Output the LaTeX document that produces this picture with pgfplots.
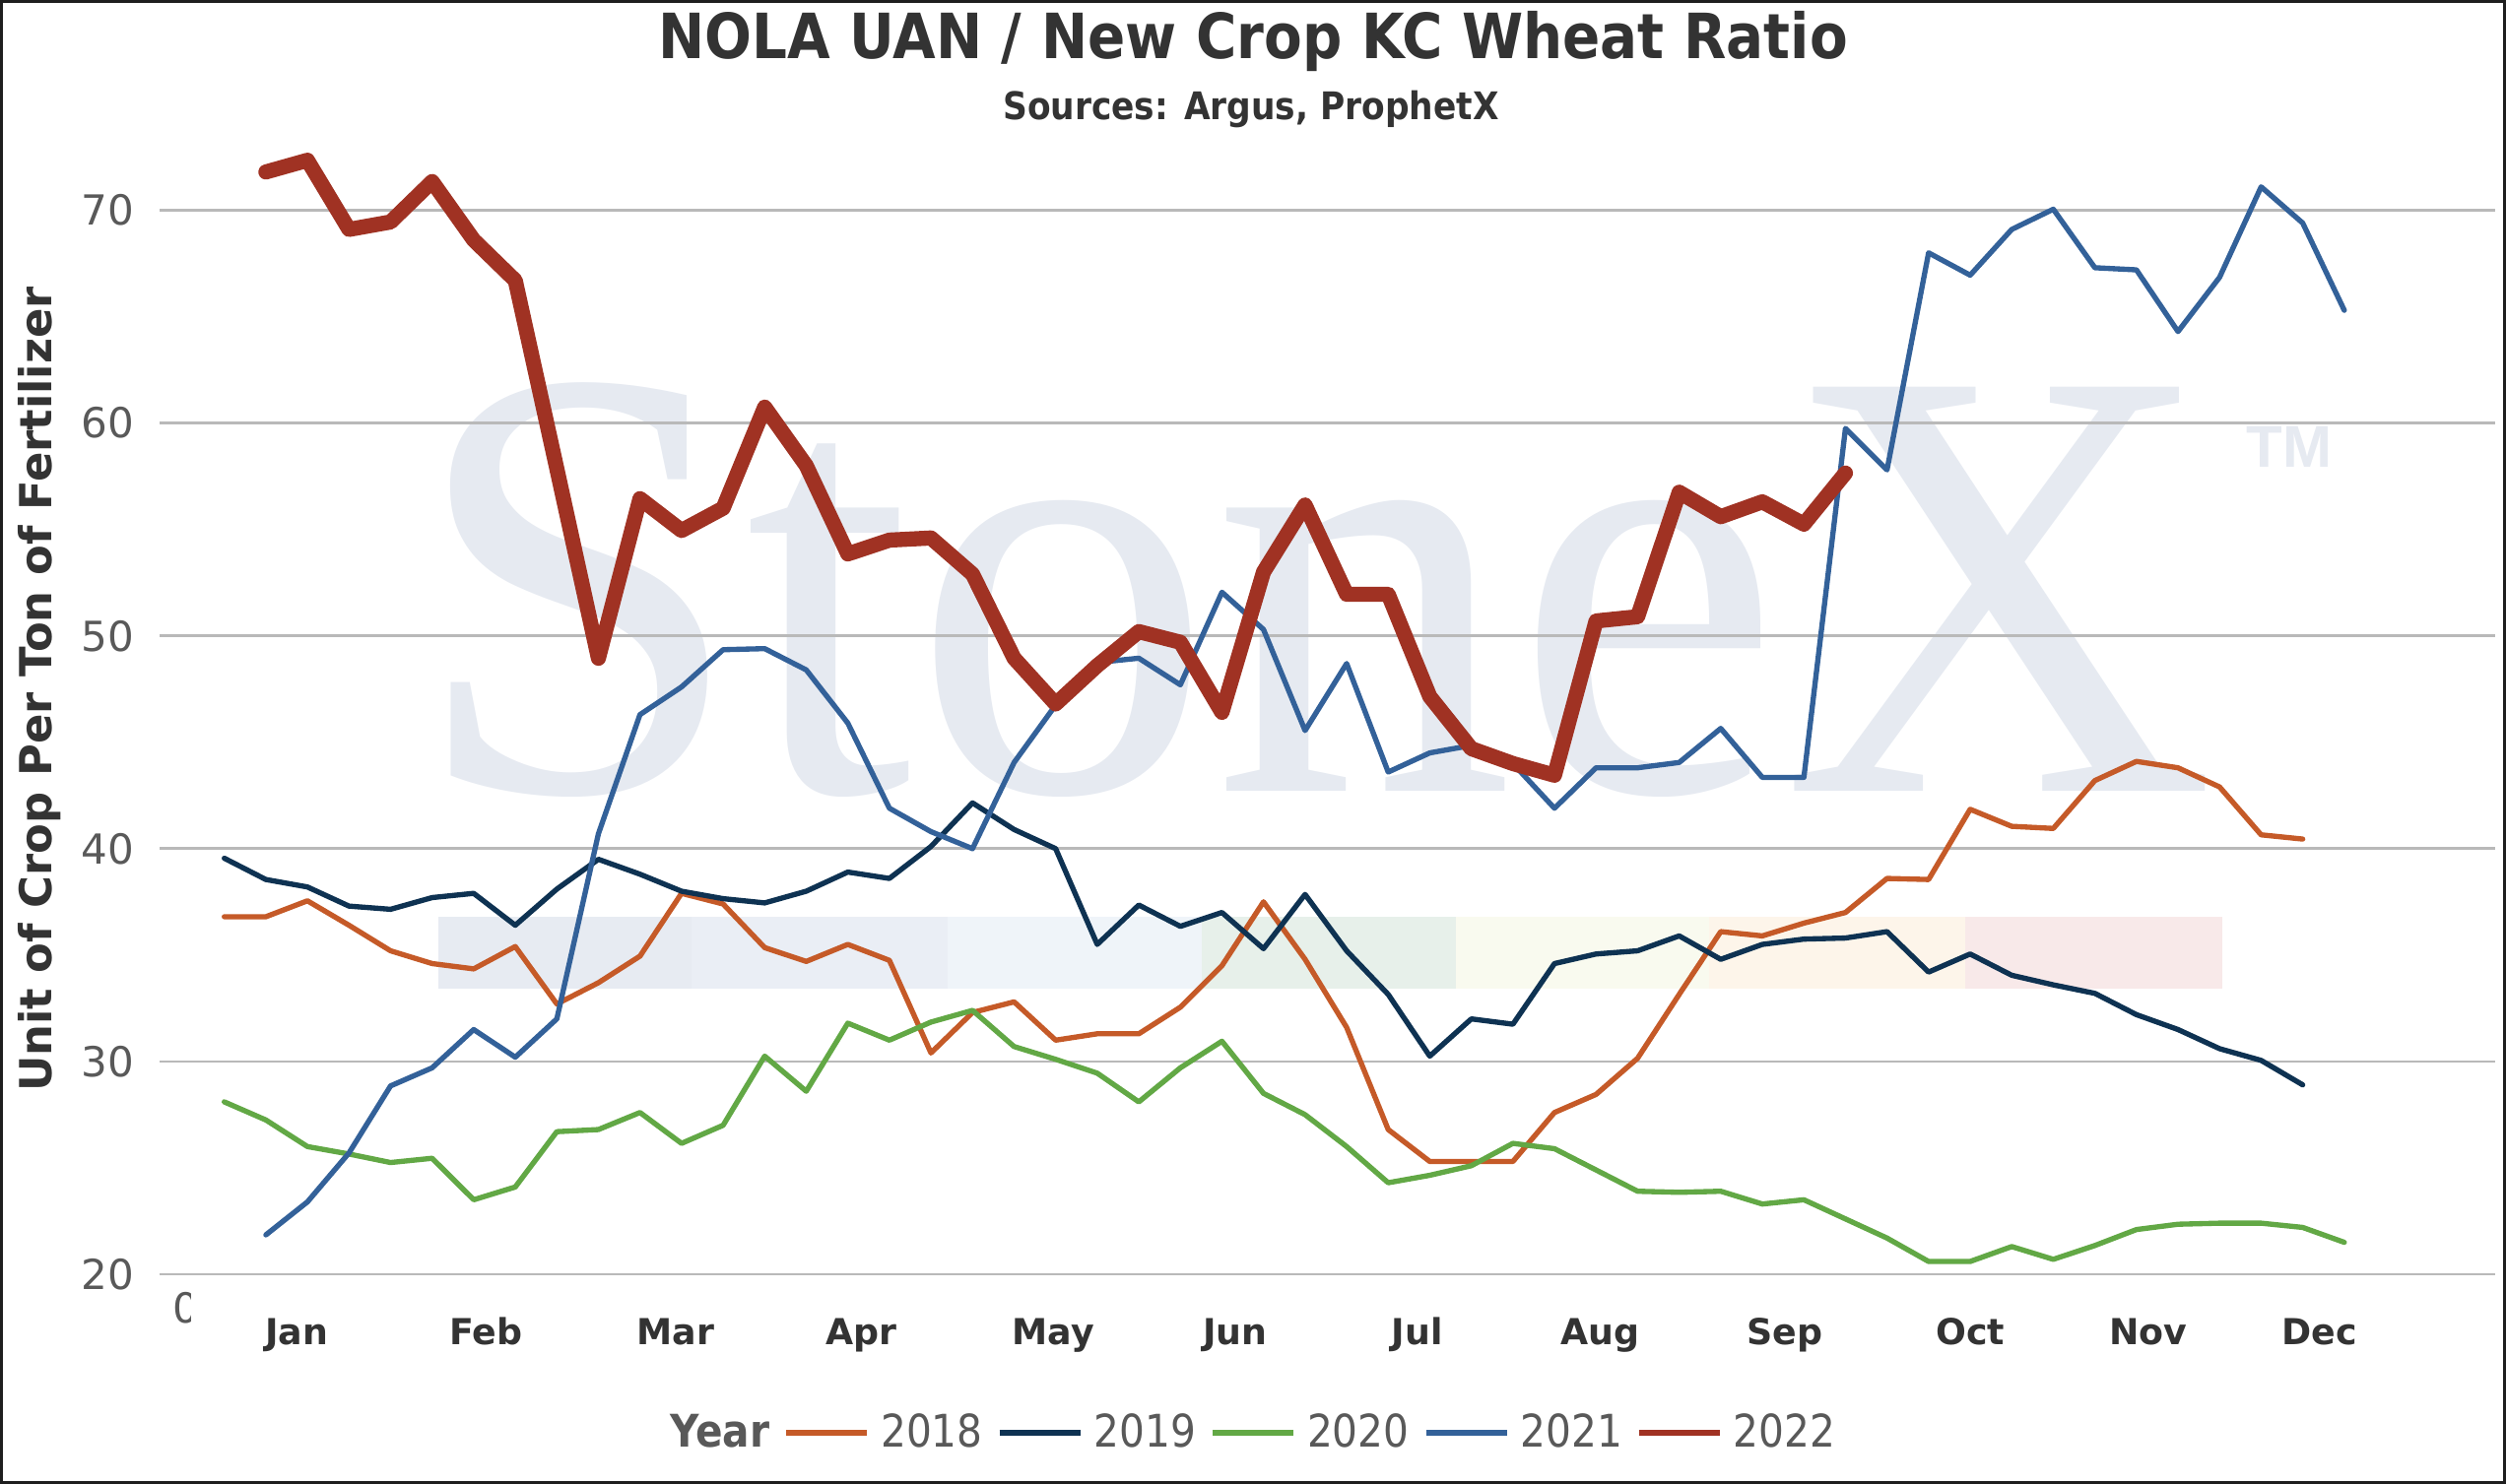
\documentclass[border=0pt]{standalone}
\usepackage{fontspec}
\setmainfont{DejaVu Sans}
\newfontfamily\cond{DejaVu Sans}[FakeStretch=0.89]
\newfontfamily\wmfont{Liberation Serif}
\newfontfamily\tmfont{Liberation Sans}
\usepackage{pgfplots}
\usepackage{pgfplotstable}
\pgfplotsset{compat=1.18}
\definecolor{cA}{RGB}{197,90,40}
\definecolor{cB}{RGB}{14,50,82}
\definecolor{cC}{RGB}{98,168,69}
\definecolor{cD}{RGB}{51,97,153}
\definecolor{cE}{RGB}{160,50,35}
\definecolor{txtgray}{RGB}{89,89,89}
\definecolor{titlecol}{RGB}{51,51,51}
\definecolor{gridcol}{RGB}{185,185,185}
\definecolor{wm}{RGB}{230,234,241}
\definecolor{b1}{RGB}{231,235,242}
\definecolor{b2}{RGB}{234,238,245}
\definecolor{b3}{RGB}{239,244,249}
\definecolor{b4}{RGB}{231,240,234}
\definecolor{b5}{RGB}{249,250,239}
\definecolor{b6}{RGB}{253,245,234}
\definecolor{b7}{RGB}{248,233,233}
\definecolor{framecol}{RGB}{30,30,30}

\pgfplotstableread{
x y
0 36.8
1 36.8
2 37.55
3 36.4
4 35.2
5 34.6
6 34.35
7 35.4
8 32.7
9 33.7
10 34.95
11 37.9
12 37.4
13 35.35
14 34.7
15 35.5
16 34.75
17 30.4
18 32.3
19 32.8
20 31.0
21 31.3
22 31.3
23 32.55
24 34.5
25 37.5
26 34.8
27 31.6
28 26.8
29 25.3
30 25.3
31 25.3
32 27.6
33 28.45
34 30.15
35 33.15
36 36.1
37 35.9
38 36.5
39 37.0
40 38.6
41 38.55
42 41.85
43 41.05
44 40.95
45 43.2
46 44.1
47 43.8
48 42.9
49 40.65
50 40.45
}\tA
\pgfplotstableread{
x y
0 39.55
1 38.55
2 38.2
3 37.3
4 37.15
5 37.7
6 37.9
7 36.4
8 38.1
9 39.5
10 38.8
11 38.0
12 37.65
13 37.45
14 38.0
15 38.9
16 38.6
17 40.1
18 42.15
19 40.9
20 40.0
21 35.5
22 37.35
23 36.35
24 37.0
25 35.3
26 37.85
27 35.2
28 33.15
29 30.25
30 32.0
31 31.75
32 34.6
33 35.05
34 35.2
35 35.9
36 34.8
37 35.5
38 35.75
39 35.8
40 36.1
41 34.2
42 35.05
43 34.05
44 33.6
45 33.2
46 32.2
47 31.5
48 30.6
49 30.05
50 28.9
}\tB
\pgfplotstableread{
x y
0 28.1
1 27.25
2 26.0
3 25.65
4 25.25
5 25.45
6 23.5
7 24.1
8 26.7
9 26.8
10 27.6
11 26.15
12 27.0
13 30.25
14 28.6
15 31.8
16 31.0
17 31.85
18 32.4
19 30.7
20 30.1
21 29.45
22 28.1
23 29.7
24 30.95
25 28.5
26 27.5
27 26.0
28 24.3
29 24.65
30 25.1
31 26.15
32 25.9
33 24.9
34 23.9
35 23.85
36 23.9
37 23.3
38 23.5
39 22.6
40 21.7
41 20.6
42 20.6
43 21.3
44 20.7
45 21.35
46 22.1
47 22.35
48 22.4
49 22.4
50 22.2
51 21.5
}\tC
\pgfplotstableread{
x y
1 21.85
2 23.4
3 25.7
4 28.85
5 29.7
6 31.5
7 30.2
8 32.0
9 40.7
10 46.3
11 47.6
12 49.35
13 49.4
14 48.4
15 45.9
16 41.9
17 40.8
18 40.0
19 44.05
20 46.75
21 48.75
22 48.95
23 47.7
24 52.05
25 50.3
26 45.55
27 48.7
28 43.6
29 44.5
30 44.85
31 44.0
32 41.9
33 43.8
34 43.8
35 44.05
36 45.65
37 43.35
38 43.35
39 59.75
40 57.8
41 68.0
42 66.95
43 69.1
44 70.05
45 67.3
46 67.2
47 64.3
48 66.85
49 71.1
50 69.4
51 65.3
}\tD
\pgfplotstableread{
x y
1 71.8
2 72.35
3 69.1
4 69.45
5 71.35
6 68.6
7 66.7
8 57.85
9 48.95
10 56.45
11 54.95
12 56.0
13 60.75
14 58.0
15 53.85
16 54.5
17 54.6
18 52.9
19 48.95
20 46.8
21 48.6
22 50.2
23 49.7
24 46.4
25 53.0
26 56.15
27 51.95
28 51.95
29 47.15
30 44.7
31 44.0
32 43.45
33 50.7
34 50.9
35 56.75
36 55.6
37 56.3
38 55.25
39 57.65
}\tE

\begin{document}
\begin{tikzpicture}
\path[use as bounding box] (0,0) rectangle (763.2pt,452.1pt);
% watermark and colour band (decoration behind the chart)
\begin{scope}[shift={(0pt,452.1pt)}, x=0.3pt, y=-0.3pt]
  \fill[b1] (445,931) rectangle (702,1004);
  \fill[b2] (702,931) rectangle (962,1004);
  \fill[b3] (962,931) rectangle (1220,1004);
  \fill[b4] (1220,931) rectangle (1478,1004);
  \fill[b5] (1478,931) rectangle (1735,1004);
  \fill[b6] (1735,931) rectangle (1995,1004);
  \fill[b7] (1995,931) rectangle (2256,1004);
  \node[anchor=base west, inner sep=0pt, xscale=0.975, text=wm, font=\wmfont\fontsize{188}{188}\selectfont] at (416,803.5) {StoneX};
  \node[anchor=base west, inner sep=0pt, text=wm, font=\tmfont\bfseries\fontsize{18}{18}\selectfont] at (2280,475) {TM};
\end{scope}
\begin{axis}[
  at={(48.6pt,63.9pt)}, anchor=south west,
  scale only axis, width=711.3pt, height=356.55pt,
  xmin=-1.557, xmax=54.63, ymin=20, ymax=75,
  axis line style={draw=none},
  major tick length=0pt,
  ymajorgrids, grid style={gridcol, line width=0.8pt},
  ytick={20,30,40,50,60,70},
  yticklabels={20,30,40,50,60,70},
  xtick={1.74,6.29,10.86,15.33,19.94,24.32,28.70,33.09,37.54,42.0,46.28,50.4},
  xticklabels={Jan,Feb,Mar,Apr,May,Jun,Jul,Aug,Sep,Oct,Nov,Dec},
  /pgf/number format/assume math mode=true,
  yticklabel style={anchor=east, inner sep=0pt, xshift=-7.5pt, text=txtgray, font=\fontsize{12.6}{15}\selectfont},
  xticklabel style={anchor=base, inner sep=0pt, yshift=-21.6pt, text=titlecol, font=\bfseries\fontsize{10.9}{13}\selectfont},
  every axis plot/.append style={line width=1.6pt, line join=round, line cap=round, mark=none},
  legend image code/.code={\draw[#1, line width=1.8pt, line cap=butt] (0pt,0pt) -- (24.6pt,0pt);},
  legend style={draw=none, fill=none, at={(0.4658,-0.1355)}, anchor=center,
    legend columns=-1, inner sep=0pt,
    font=\cond\fontsize{13.7}{16}\selectfont, text=txtgray,
    nodes={inner sep=0pt},
    /tikz/every odd column/.append style={column sep=3.3pt},
    /tikz/every even column/.append style={column sep=4.2pt}},
]
\addlegendimage{empty legend}
\addlegendentry{\textbf{Year}}
\addplot[cA] table[x=x,y=y] {\tA};
\addlegendentry{2018}
\addplot[cB] table[x=x,y=y] {\tB};
\addlegendentry{2019}
\addplot[cC] table[x=x,y=y] {\tC};
\addlegendentry{2020}
\addplot[cD] table[x=x,y=y] {\tD};
\addlegendentry{2021}
\addplot[cE, line width=4.6pt] table[x=x,y=y] {\tE};
\addlegendentry{2022}
\end{axis}
\begin{scope}[shift={(0pt,452.1pt)}, x=0.3pt, y=-0.3pt]
  \node[anchor=base, inner sep=0pt, text=titlecol, font=\cond\bfseries\fontsize{19}{22}\selectfont] at (1272,60) {NOLA UAN / New Crop KC Wheat Ratio};
  \node[anchor=base, inner sep=0pt, text=titlecol, font=\cond\bfseries\fontsize{11.6}{14}\selectfont] at (1270,122) {Sources: Argus, ProphetX};
  \node[rotate=90, inner sep=0pt, text=titlecol, font=\bfseries\fontsize{13.45}{16}\selectfont] at (40,700) {Unit of Crop Per Ton of Fertilizer};
  \begin{scope}
    \clip (165,1295) rectangle (193,1360);
    \node[anchor=west, inner sep=0pt, text=txtgray, font=\fontsize{12.6}{15}\selectfont] at (174.5,1328) {0};
  \end{scope}
  \draw[framecol, line width=0.9pt] (1.5,1.5) rectangle (2542.5,1505.5);
\end{scope}
\end{tikzpicture}
\end{document}
